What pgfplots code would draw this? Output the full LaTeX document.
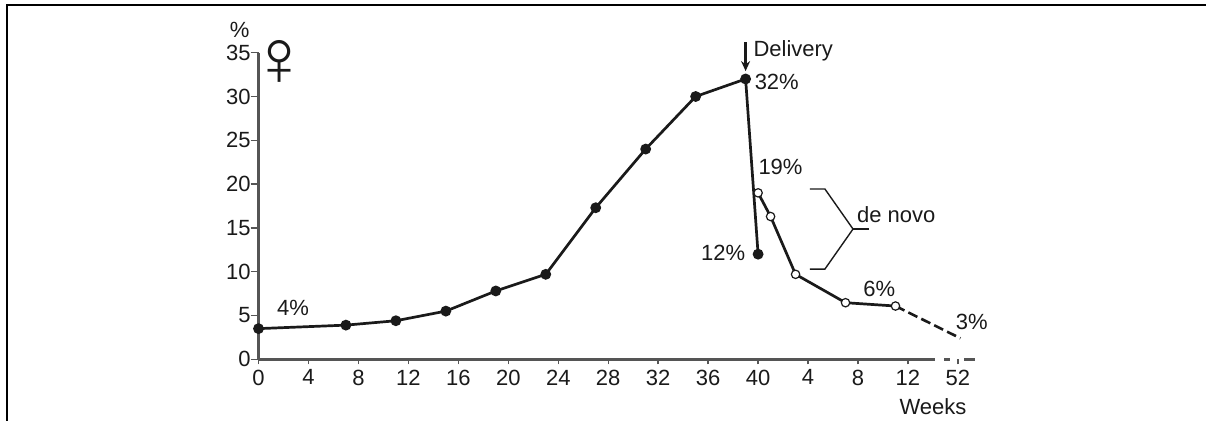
\documentclass[border=0pt]{standalone}
\usepackage{pgfplots}
\pgfplotsset{compat=1.18}
\usetikzlibrary{arrows.meta}
\usepackage{fontspec}
\setmainfont{Liberation Sans}
\definecolor{axgray}{HTML}{555555}
\definecolor{ink}{HTML}{1A1A1A}
\begin{document}
\begin{tikzpicture}[x=0.5pt,y=0.5pt]
\path[use as bounding box] (0,0) rectangle (1206,421);
\draw[black,line width=1pt] (7,0) -- (7,416) -- (1206,416);
\begin{axis}[
  at={(129.25pt,30.85pt)},anchor=south west,
  scale only axis,width=374.7pt,height=153.3pt,
  xmin=0,xmax=60,ymin=0,ymax=35,clip=false,
  axis x line=bottom,axis y line=left,
  axis line style={-},
  x axis line style={draw=none},
  y axis line style={axgray,line width=1.2pt},
  xtick={0,4,...,56},
  xticklabels={0,4,8,12,16,20,24,28,32,36,40,4,8,12,52},
  ytick={0,5,...,35},
  tick align=outside,
  major tick length=2.5pt,
  tick style={axgray,line width=0.7pt},
  ytick style={axgray,line width=0.7pt,/pgfplots/major tick length=4pt},
  every tick label/.append style={font=\fontsize{11}{13}\selectfont,text=ink},
  xticklabel style={yshift=-2.5pt},
  yticklabel style={xshift=-1.2pt},
  /pgf/number format/assume math mode=true,
  nodes={font=\fontsize{11}{13}\selectfont,text=ink,inner sep=0pt},
]
% x axis line with its gap
\addplot[axgray,line width=1.3pt,forget plot] coordinates {(0,0) (54.2,0)};
\addplot[axgray,line width=1.3pt,forget plot] coordinates {(54.9,0) (55.4,0)};
\addplot[axgray,line width=1.3pt,forget plot] coordinates {(56.5,0) (57.4,0)};
% fall after delivery
\addplot[ink,line width=1.35pt,mark=*,mark size=2pt,mark options={fill=ink}] coordinates {
 (0,3.5) (7,3.9) (11,4.4) (15,5.5) (19,7.8) (23,9.7) (27,17.3) (31,24) (35,30) (39,32) (40,12)};
% de novo
\addplot[ink,dash pattern=on 5pt off 2.2pt,line width=1.3pt] coordinates {(51,6.08) (56.2,2.4)};
\addplot[ink,line width=1.35pt,mark=*,mark size=2.1pt,mark options={fill=white,draw=ink,line width=0.6pt}] coordinates {
 (40,19) (41,16.3) (43,9.7) (47,6.46) (51,6.08)};
% bracket
\addplot[ink,line width=0.7pt] coordinates {(44.15,19.44) (45.35,19.44) (47.6,14.87) (45.35,10.3) (44.15,10.3)};
\addplot[ink,line width=0.7pt] coordinates {(47.6,14.87) (48.87,14.87)};
\draw[ink,line width=1.3pt,-{Stealth[length=5pt,width=4.5pt]}] (axis cs:39,36.2) -- (axis cs:39,32.9);
\node at (axis cs:-1.5,37.6) {\%};
\node at (axis cs:2.76,5.86) {4\%};
\node[anchor=west] at (axis cs:39.7,31.65) {32\%};
\node[anchor=west] at (axis cs:39.6,35.2) {Delivery};
\node[anchor=west] at (axis cs:40,21.95) {19\%};
\node[anchor=east] at (axis cs:39,12.1) {12\%};
\node[anchor=west] at (axis cs:47.9,16.5) {de novo};
\node at (axis cs:49.7,8) {6\%};
\node at (axis cs:57.1,4.26) {3\%};
\node at (axis cs:54,-5.4) {Weeks};
\node at (axis cs:1.65,33.8) {\fontsize{40}{40}\selectfont\makebox[0pt]{♀}};
\end{axis}
\end{tikzpicture}
\end{document}
